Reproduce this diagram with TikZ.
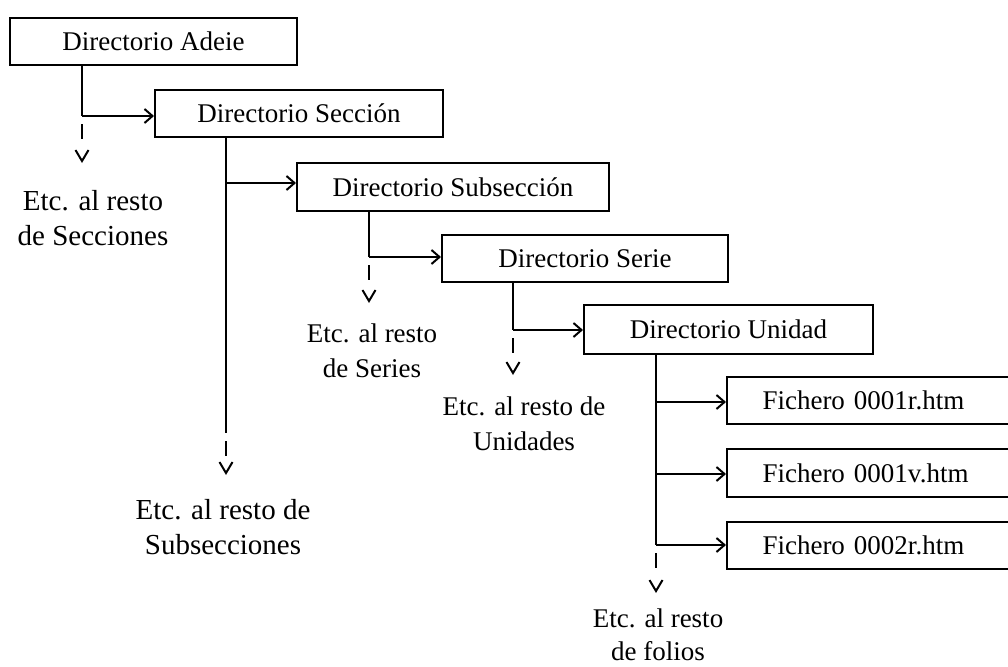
\documentclass[tikz,border=0pt]{standalone}
\usepackage{fontspec}
\setmainfont{Liberation Serif}
\usetikzlibrary{arrows.meta}
\begin{document}
\begin{tikzpicture}[x=1pt,y=-1pt,
  box/.style={draw, line width=2pt, rectangle, inner sep=0pt, font=\fontsize{27}{35}\selectfont},
  filebox/.style={box, minimum width=285pt, text width=214pt, align=left},
  lbl/.style={align=center, inner sep=0pt, font=\fontsize{27}{35}\selectfont},
  biglbl/.style={align=center, inner sep=0pt, font=\fontsize{29}{35}\selectfont},
  conn/.style={line width=2pt},
  toarr/.style={conn, -{Straight Barb[length=8pt,width=14pt]}},
  etc/.style={conn, -{Straight Barb[length=11pt,width=13pt]}, dash pattern=on 0pt off 8pt on 15pt off 200pt}]
\useasboundingbox (0,0) rectangle (1008,666);

% boxes
\node[box, minimum width=287pt, minimum height=47pt] (b1) at (153.5,41.5) {Directorio Adeie};
\node[box, minimum width=288pt, minimum height=47pt] (b2) at (299,113.5) {Directorio Sección};
\node[box, minimum width=312pt, minimum height=48pt] (b3) at (453,187) {Directorio Subsección};
\node[box, minimum width=286pt, minimum height=47pt] (b4) at (585,258.5) {Directorio Serie};
\node[box, minimum width=289pt, minimum height=49pt] (b5) at (728.5,329.5) {Directorio Unidad};
\node[filebox, minimum height=47pt] (f1) at (869.5,400.5) {Fichero 0001r.htm};
\node[filebox, minimum height=48pt] (f2) at (869.5,473) {Fichero 0001v.htm};
\node[filebox, minimum height=47pt] (f3) at (869.5,545.5) {Fichero 0002r.htm};

% labels
\node[biglbl] (l1) at (93,218) {Etc. al resto\\de Secciones};
\node[biglbl] (l2) at (223,527) {Etc. al resto de\\Subsecciones};
\node[lbl] (l3) at (372,351) {Etc. al resto\\de Series};
\node[lbl] (l4) at (524,424) {Etc. al resto de\\Unidades};
\node[lbl, font=\fontsize{27}{33}\selectfont] (l5) at (658,635) {Etc. al resto\\de folios};

% junctions and free ends
\coordinate (j1) at (82,116);
\coordinate (e1) at (82,163);
\coordinate (j2) at (226,183);
\coordinate (s2) at (226,433);
\coordinate (e2) at (226,475);
\coordinate (j3) at (369,257);
\coordinate (e3) at (369,303);
\coordinate (j4) at (513,330);
\coordinate (e4) at (513,375);
\coordinate (ja) at (656,402);
\coordinate (jb) at (656,474);
\coordinate (jc) at (656,545);
\coordinate (e5) at (656,593);

% connectors
\draw[conn] (b1.south -| j1) -- (j1);
\draw[toarr] (j1) -- (j1 -| b2.west);
\draw[etc] (j1) -- (e1);

\draw[conn] (b2.south -| j2) -- (s2);
\draw[toarr] (j2) -- (j2 -| b3.west);
\draw[etc] (s2) -- (e2);

\draw[conn] (b3.south -| j3) -- (j3);
\draw[toarr] (j3) -- (j3 -| b4.west);
\draw[etc] (j3) -- (e3);

\draw[conn] (b4.south -| j4) -- (j4);
\draw[toarr] (j4) -- (j4 -| b5.west);
\draw[etc] (j4) -- (e4);

\draw[conn] (b5.south -| ja) -- (jc);
\draw[toarr] (ja) -- (ja -| f1.west);
\draw[toarr] (jb) -- (jb -| f2.west);
\draw[toarr] (jc) -- (jc -| f3.west);
\draw[etc] (jc) -- (e5);
\end{tikzpicture}
\end{document}
